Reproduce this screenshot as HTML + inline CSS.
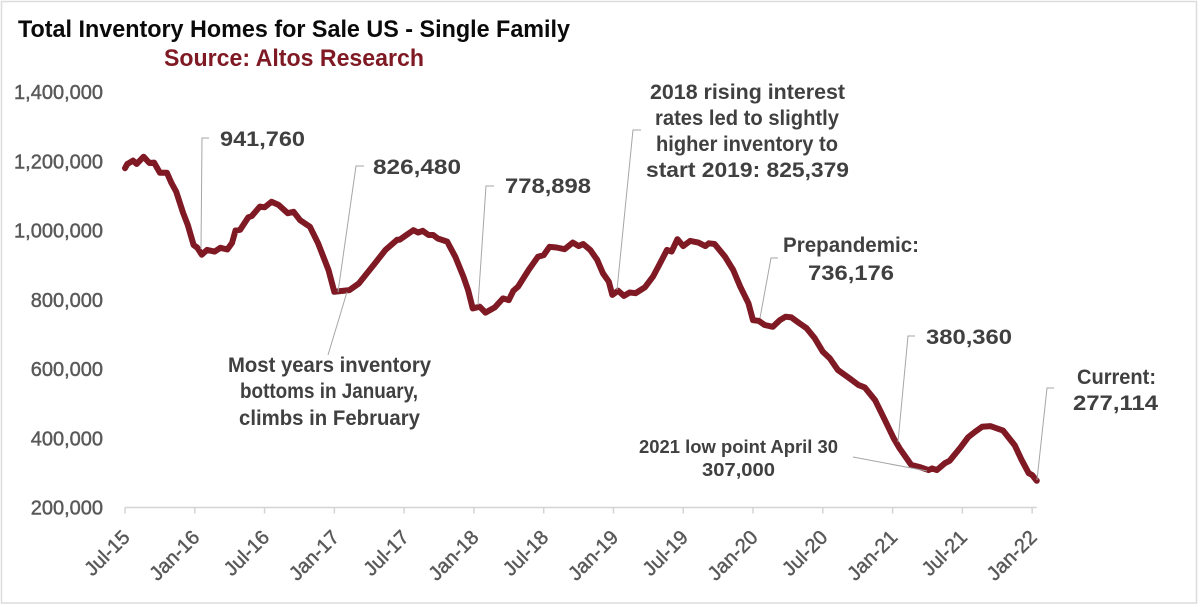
<!DOCTYPE html>
<html lang="en">
<head>
<meta charset="utf-8">
<title>Total Inventory Homes for Sale US - Single Family</title>
<style>
html,body{margin:0;padding:0;background:#fff;width:1200px;height:607px;overflow:hidden}
svg{display:block}
text{font-family:"Liberation Sans",Arial,sans-serif}
.note{fill:#404040;font-weight:700;font-size:21.5px}
.small{font-size:18.5px}
.tick{fill:#595959;stroke:#595959;stroke-width:.45px}
.lead{fill:none;stroke:#a6a6a6;stroke-width:1}
</style>
</head>
<body>
<svg id="chart" xmlns="http://www.w3.org/2000/svg" width="1200" height="607" viewBox="0 0 1200 607">
  <rect x="1.5" y="1.5" width="1195" height="601.5" fill="#fff" stroke="#dcdcdc" stroke-width="1.5"/>
  <text x="18" y="37" font-size="24.5" font-weight="700" fill="#0a0a0a" textLength="552" lengthAdjust="spacingAndGlyphs">Total Inventory Homes for Sale US - Single Family</text>
  <text x="164" y="66" font-size="24.5" font-weight="700" fill="#7f1a24" textLength="260" lengthAdjust="spacingAndGlyphs">Source: Altos Research</text>

  <g id="y-axis"></g>
  <g id="x-axis"></g>
  <path id="series-line" fill="none" stroke="#7f1a24" stroke-width="6" stroke-linejoin="round" stroke-linecap="round"/>

  <g>
    <polyline class="lead" points="201,249 202,138 209,138"/>
    <polyline class="lead" points="338,292 356,166 364,166"/>
    <line class="lead" x1="347" y1="292" x2="328" y2="355"/>
    <polyline class="lead" points="478,305 486,186 494,186"/>
    <polyline class="lead" points="617,290 633,130 641,130"/>
    <polyline class="lead" points="760,318 771,258 778,258"/>
    <polyline class="lead" points="898,442 908,336 915,336"/>
    <polyline class="lead" points="1037,480 1047,388 1054,388"/>
    <line class="lead" x1="853" y1="457" x2="927" y2="471"/>
  </g>

  <g>
    <text class="note" x="220" y="146" textLength="85" lengthAdjust="spacingAndGlyphs">941,760</text>
    <text class="note" x="373" y="174" textLength="88" lengthAdjust="spacingAndGlyphs">826,480</text>
    <text class="note" x="505" y="193" textLength="86" lengthAdjust="spacingAndGlyphs">778,898</text>
    <text class="note" x="650" y="99" textLength="195" lengthAdjust="spacingAndGlyphs">2018 rising interest</text>
    <text class="note" x="655" y="125" textLength="184" lengthAdjust="spacingAndGlyphs">rates led to slightly</text>
    <text class="note" x="656" y="151" textLength="182" lengthAdjust="spacingAndGlyphs">higher inventory to</text>
    <text class="note" x="646" y="177" textLength="203" lengthAdjust="spacingAndGlyphs">start 2019: 825,379</text>
    <text class="note" x="783" y="252" textLength="136" lengthAdjust="spacingAndGlyphs">Prepandemic:</text>
    <text class="note" x="808" y="280" textLength="86" lengthAdjust="spacingAndGlyphs">736,176</text>
    <text class="note" x="926" y="344" textLength="86" lengthAdjust="spacingAndGlyphs">380,360</text>
    <text class="note" x="1077" y="384" textLength="79" lengthAdjust="spacingAndGlyphs">Current:</text>
    <text class="note" x="1073" y="410" textLength="85" lengthAdjust="spacingAndGlyphs">277,114</text>
    <text class="note" x="228" y="372" textLength="203" lengthAdjust="spacingAndGlyphs">Most years inventory</text>
    <text class="note" x="240" y="398" textLength="178" lengthAdjust="spacingAndGlyphs">bottoms in January,</text>
    <text class="note" x="239" y="425" textLength="181" lengthAdjust="spacingAndGlyphs">climbs in February</text>
    <text class="note small" x="639" y="453" textLength="199" lengthAdjust="spacingAndGlyphs">2021 low point April 30</text>
    <text class="note small" x="702" y="476" textLength="73" lengthAdjust="spacingAndGlyphs">307,000</text>
  </g>
</svg>
<script>
const yTickValues = [200000, 400000, 600000, 800000, 1000000, 1200000, 1400000];
const xTickLabels = ["Jul-15","Jan-16","Jul-16","Jan-17","Jul-17","Jan-18","Jul-18","Jan-19","Jul-19","Jan-20","Jul-20","Jan-21","Jul-21","Jan-22"];
const monthsSinceJul15 = [0,0.2,0.7,1,1.6,2.1,2.5,3,3.6,4,4.4,5,5.4,5.9,6.2,6.6,7.05,7.7,8.2,8.8,9.2,9.5,9.9,10.6,10.9,11.6,12,12.6,13.2,14,14.5,15.05,15.9,16.6,17.5,18,18.5,19.3,20.1,20.8,21.6,22.4,23.4,23.6,24.2,24.8,25.2,25.6,26.1,26.5,26.9,27.7,28.4,29.1,29.5,29.9,30.5,31,31.8,32.5,33,33.4,33.8,34.7,35.5,36,36.5,37.1,37.8,38.5,39,39.4,40,40.6,41.1,41.6,41.9,42.4,42.9,43.4,43.9,44.7,45.4,46,46.6,47,47.5,48,48.6,49.3,49.9,50.2,50.7,51.6,52.3,52.9,53.6,54,54.5,55,55.7,56.3,56.8,57.3,58,58.6,59.3,60,60.6,61.3,62.3,63.05,63.6,64.5,65.2,66.1,66.6,67.6,68.4,69.1,69.4,69.8,70.5,70.9,71.9,72.5,73.1,73.7,74.4,75.5,76.5,77.1,77.7,78,78.4];
const inventoryHomes = [1180000,1192000,1202000,1192000,1213000,1195000,1196000,1167000,1167000,1137000,1112000,1050000,1016000,958000,951000,930000,944000,939000,950000,945000,964000,1000000,1002000,1038000,1042000,1069000,1067000,1083000,1074000,1050000,1054000,1030000,1011000,963000,886000,823000,825000,828000,847000,876000,910000,944000,973000,973000,987000,1001000,994000,999000,987000,987000,977000,968000,924000,867000,828000,775000,780000,763000,778000,804000,799000,826000,838000,886000,924000,929000,953000,951000,946000,965000,955000,961000,944000,915000,876000,852000,814000,826000,811000,821000,819000,836000,867000,905000,944000,939000,975000,955000,970000,965000,955000,963000,961000,924000,886000,838000,790000,741000,739000,727000,722000,741000,751000,749000,732000,718000,689000,650000,631000,597000,573000,554000,547000,510000,462000,400000,371000,323000,316000,308000,313000,308000,328000,335000,376000,403000,419000,433000,435000,422000,380000,337000,299000,294000,277114];

const SVG_NS = "http://www.w3.org/2000/svg";
const plotLeft = 125, monthWidth = 11.63;
const plotBottom = 507.5, plotTop = 92, yMin = 200000, yMax = 1400000;
const axisColor = "#d4d4d4";

function xScale(m) { return plotLeft + m * monthWidth; }
function yScale(v) { return plotBottom - (v - yMin) / (yMax - yMin) * (plotBottom - plotTop); }

const yAxis = document.getElementById("y-axis");
const xAxis = document.getElementById("x-axis");

yTickValues.forEach(function (v) {
  const t = document.createElementNS(SVG_NS, "text");
  
  
  t.setAttribute("class", "tick");
  t.setAttribute("x", 103);
  t.setAttribute("y", yScale(v) + 7);
  t.setAttribute("text-anchor", "end");
  t.setAttribute("font-size", "20");
  t.textContent = v.toLocaleString("en-US");
  yAxis.appendChild(t);
});

const baseline = document.createElementNS(SVG_NS, "line");


baseline.setAttribute("x1", xScale(0));
baseline.setAttribute("x2", xScale(78.4));
baseline.setAttribute("y1", plotBottom);
baseline.setAttribute("y2", plotBottom);
baseline.setAttribute("stroke", axisColor);
baseline.setAttribute("stroke-width", "1.5");
xAxis.appendChild(baseline);

xTickLabels.forEach(function (label, i) {
  const x = xScale(i * 6);
  const tick = document.createElementNS(SVG_NS, "line");
  
  
  tick.setAttribute("x1", x);
  tick.setAttribute("x2", x);
  tick.setAttribute("y1", plotBottom);
  tick.setAttribute("y2", plotBottom + 6);
  tick.setAttribute("stroke", axisColor);
  tick.setAttribute("stroke-width", "1.5");
  xAxis.appendChild(tick);

  const t = document.createElementNS(SVG_NS, "text");
  
  
  t.setAttribute("class", "tick");
  t.setAttribute("text-anchor", "end");
  t.setAttribute("font-size", "20");
  t.setAttribute("transform", "translate(" + (x + 6) + " " + (plotBottom + 31) + ") rotate(-45)");
  t.textContent = label;
  xAxis.appendChild(t);
});

const linePath = monthsSinceJul15.map(function (m, i) {
  return (i ? "L" : "M") + xScale(m).toFixed(1) + " " + yScale(inventoryHomes[i]).toFixed(1);
}).join(" ");
document.getElementById("series-line").setAttribute("d", linePath);
</script>
</body>
</html>
